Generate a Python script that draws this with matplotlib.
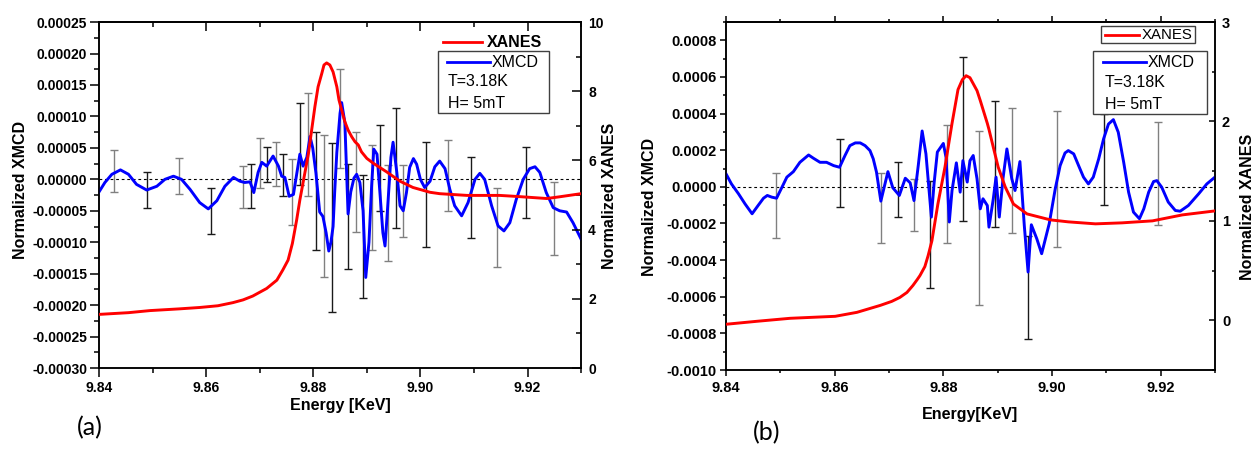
import numpy as np
import matplotlib
matplotlib.use("Agg")
from matplotlib import pyplot as plt
from matplotlib.patches import Rectangle
from matplotlib.ticker import MultipleLocator, FormatStrFormatter, FuncFormatter

plt.rcParams["font.family"] = ["Liberation Sans", "DejaVu Sans"]

# ---------------- panel (a) ----------------
# XMCD (energy keV, value in units of 1e-5)
xmcd_a_pts = [
    (9.8400, -2.0), (9.8411, -0.5), (9.8424, 0.8), (9.8440, 1.5), (9.8455, 0.8),
    (9.8470, -0.8), (9.8489, -1.7), (9.8508, -1.1), (9.8523, 0.0), (9.8539, 0.5),
    (9.8554, 0.0), (9.8570, -1.6), (9.8588, -3.7), (9.8604, -4.7), (9.8620, -3.4),
    (9.8635, -1.1), (9.8651, 0.3), (9.8663, -0.3), (9.8672, -0.5), (9.8682, -0.4),
    (9.8689, -2.1), (9.8697, 1.1), (9.8704, 2.7), (9.8713, 2.1), (9.8725, 3.7),
    (9.8735, 2.1), (9.8741, 0.5), (9.8747, 0.3), (9.8755, -2.7), (9.8763, -2.4),
    (9.8775, 4.0), (9.8781, 2.1), (9.8788, 3.5), (9.8794, 6.8), (9.8799, 5.0),
    (9.8805, 1.0), (9.8812, -5.2), (9.8818, -5.9), (9.8824, -8.5), (9.8829, -11.4),
    (9.8833, -10.0), (9.8837, -7.5), (9.8840, -2.0), (9.8844, 4.3), (9.8850, 10.5),
    (9.8853, 12.2), (9.8859, 9.0), (9.8865, -5.5), (9.8870, -2.0), (9.8876, 0.2),
    (9.8881, 0.8), (9.8887, -0.5), (9.8893, -5.0), (9.8898, -15.6), (9.8904, -10.0),
    (9.8909, -1.0), (9.8913, 4.8), (9.8919, 4.0), (9.8924, -1.6), (9.8930, -8.5),
    (9.8934, -10.6), (9.8939, -4.3), (9.8945, 3.5), (9.8949, 5.9), (9.8956, 1.1),
    (9.8962, -4.2), (9.8968, -5.0), (9.8974, -2.1), (9.8980, 1.9), (9.8987, 3.3),
    (9.8993, 2.4), (9.9000, 0.0), (9.9008, -1.3), (9.9018, -0.3), (9.9027, 2.0),
    (9.9036, 2.9), (9.9046, 1.7), (9.9055, -1.6), (9.9064, -4.2), (9.9077, -5.8),
    (9.9089, -3.7), (9.9102, 0.0), (9.9111, 0.95), (9.9120, 0.0), (9.9133, -4.2),
    (9.9145, -7.4), (9.9156, -8.2), (9.9167, -6.9), (9.9179, -3.2), (9.9192, 0.0),
    (9.9204, 1.7), (9.9214, 2.0), (9.9223, 1.1), (9.9235, -2.1), (9.9248, -4.5),
    (9.9260, -5.0), (9.9273, -5.2), (9.9285, -6.9), (9.9300, -9.5),
]
# XANES (energy keV, normalized value, right axis)
xanes_a_pts = [
    (9.8400, 1.55), (9.8455, 1.60), (9.8495, 1.66), (9.8550, 1.71), (9.8588, 1.75),
    (9.8622, 1.80), (9.8650, 1.89), (9.8669, 1.97), (9.8687, 2.08), (9.8713, 2.30),
    (9.8732, 2.54), (9.8743, 2.83), (9.8753, 3.12), (9.8761, 3.60), (9.8769, 4.28),
    (9.8775, 4.86), (9.8783, 5.53), (9.8791, 6.20), (9.8797, 6.88), (9.8803, 7.55),
    (9.8809, 8.13), (9.8816, 8.52), (9.8820, 8.76), (9.8825, 8.82), (9.8831, 8.76),
    (9.8837, 8.56), (9.8844, 8.13), (9.8848, 7.75), (9.8853, 7.46), (9.8859, 7.12),
    (9.8865, 6.88), (9.8872, 6.68), (9.8878, 6.54), (9.8884, 6.45), (9.8890, 6.25),
    (9.8900, 6.06), (9.8912, 5.92), (9.8937, 5.67), (9.8962, 5.40), (9.8986, 5.22),
    (9.9018, 5.08), (9.9036, 5.04), (9.9087, 4.99), (9.9148, 4.99), (9.9180, 4.96),
    (9.9236, 4.90), (9.9260, 4.95), (9.9300, 5.04),
]
# error bars (energy, centre, half length), values in units of 1e-5
err_a = [
    (9.8428, 1.3, 3.3), (9.8490, -1.7, 2.9), (9.8549, 0.5, 2.9), (9.8609, -5.0, 3.7),
    (9.8669, -1.2, 3.3), (9.8684, -1.0, 3.5), (9.8700, 2.6, 4.0), (9.8714, 2.3, 2.8),
    (9.8730, 2.4, 3.5), (9.8743, 0.7, 3.4), (9.8760, -2.0, 5.2), (9.8775, 5.6, 6.5),
    (9.8790, 5.5, 8.2), (9.8805, -1.9, 9.4), (9.8820, -4.2, 11.3), (9.8835, -7.7, 13.4),
    (9.8850, 9.7, 7.9), (9.8865, -5.9, 8.4), (9.8880, -0.4, 8.0), (9.8893, -9.1, 9.8),
    (9.8909, -2.9, 8.3), (9.8924, 1.8, 6.9), (9.8939, -5.4, 7.6), (9.8954, 1.8, 9.6),
    (9.8968, -3.5, 5.7), (9.9010, -2.4, 8.3), (9.9051, 0.6, 5.6), (9.9094, -2.9, 6.4),
    (9.9143, -7.7, 6.3), (9.9197, -0.5, 5.7), (9.9249, -6.3, 5.8),
]

# ---------------- panel (b) ----------------
# XMCD (energy keV, value in units of 1e-4)
xmcd_b_pts = [
    (9.8400, 0.71), (9.8410, 0.16), (9.8423, -0.38), (9.8435, -0.93), (9.8448, -1.47),
    (9.8459, -1.02), (9.8469, -0.62), (9.8476, -0.47), (9.8484, -0.56), (9.8493, -0.62),
    (9.8503, -0.02), (9.8512, 0.53), (9.8524, 0.83), (9.8536, 1.34), (9.8552, 1.74),
    (9.8561, 1.56), (9.8573, 1.34), (9.8585, 1.34), (9.8598, 1.16), (9.8609, 1.07),
    (9.8619, 1.71), (9.8628, 2.25), (9.8638, 2.40), (9.8647, 2.40), (9.8656, 2.25),
    (9.8665, 1.98), (9.8671, 1.53), (9.8677, 0.80), (9.8685, -0.78), (9.8698, 0.83),
    (9.8707, -0.05), (9.8719, -0.47), (9.8730, 0.47), (9.8739, 0.22), (9.8746, -0.75),
    (9.8754, 1.20), (9.8761, 3.05), (9.8768, 1.80), (9.8778, -1.65), (9.8783, 0.20),
    (9.8789, 1.90), (9.8800, 2.37), (9.8805, 1.60), (9.8811, -1.92), (9.8816, -0.20),
    (9.8824, 1.31), (9.8831, -0.29), (9.8836, 1.43), (9.8844, 0.26), (9.8849, 1.43),
    (9.8855, 1.71), (9.8862, 0.44), (9.8868, -1.20), (9.8873, -0.65), (9.8881, -1.02),
    (9.8884, -2.20), (9.8892, -0.65), (9.8897, 0.53), (9.8903, -1.65), (9.8910, 0.50),
    (9.8917, 2.07), (9.8926, 0.44), (9.8932, -0.20), (9.8941, 1.38), (9.8949, -2.10),
    (9.8956, -4.65), (9.8962, -2.07), (9.8972, -2.83), (9.8981, -3.65), (9.8995, -2.00),
    (9.9006, -0.11), (9.9015, 1.16), (9.9024, 1.85), (9.9030, 1.98), (9.9040, 1.80),
    (9.9049, 1.16), (9.9058, 0.53), (9.9067, 0.16), (9.9076, 0.53), (9.9086, 1.53),
    (9.9095, 2.62), (9.9104, 3.43), (9.9113, 3.67), (9.9122, 2.98), (9.9132, 1.34),
    (9.9141, -0.29), (9.9150, -1.38), (9.9161, -1.74), (9.9169, -1.20), (9.9178, -0.29),
    (9.9187, 0.29), (9.9193, 0.34), (9.9202, -0.02), (9.9214, -0.83), (9.9227, -1.29),
    (9.9236, -1.33), (9.9251, -1.02), (9.9270, -0.38), (9.9285, 0.16), (9.9300, 0.53),
]
xanes_b_pts = [
    (9.8400, -0.04), (9.8457, -0.01), (9.8518, 0.02), (9.8601, 0.04), (9.8641, 0.08),
    (9.8684, 0.15), (9.8705, 0.19), (9.8720, 0.23), (9.8733, 0.28), (9.8744, 0.35),
    (9.8752, 0.41), (9.8757, 0.45), (9.8766, 0.54), (9.8772, 0.65), (9.8779, 0.80),
    (9.8790, 1.17), (9.8803, 1.54), (9.8816, 1.98), (9.8827, 2.32), (9.8835, 2.42),
    (9.8842, 2.46), (9.8849, 2.44), (9.8855, 2.38), (9.8862, 2.31), (9.8868, 2.21),
    (9.8881, 1.98), (9.8884, 1.92), (9.8892, 1.74), (9.8901, 1.54), (9.8914, 1.34),
    (9.8929, 1.17), (9.8954, 1.07), (9.8997, 1.01), (9.9030, 0.99), (9.9080, 0.97),
    (9.9129, 0.98), (9.9185, 1.00), (9.9240, 1.06), (9.9300, 1.10),
]
# error bars (energy, centre, half length), values in units of 1e-4
err_b = [
    (9.8492, -1.02, 1.76), (9.8610, 0.75, 1.84), (9.8686, -1.16, 1.91),
    (9.8716, -0.16, 1.51), (9.8746, -1.00, 1.43), (9.8776, -2.60, 2.90),
    (9.8806, 0.15, 3.20), (9.8837, 2.59, 4.48), (9.8865, -1.70, 4.73),
    (9.8895, 1.25, 3.42), (9.8926, 0.88, 3.40), (9.8956, -5.50, 2.79),
    (9.9009, 0.44, 3.72), (9.9095, 1.50, 2.48), (9.9195, 0.75, 2.81),
]

BAR_COLORS = ["#808080", "#1a1a1a"]


def fixed_fmt(decimals):
    # avoid "-0.00000" from tiny float residue at zero
    return FuncFormatter(lambda v, _: f"{0.0 if abs(v) < 1e-12 else v:.{decimals}f}")


def style_axes(ax, ax2, fs, tick_len, top_dir, left_pad, right_pad, x_pad):
    for a in (ax, ax2):
        for sp in a.spines.values():
            sp.set_linewidth(1.1)
    ax.set_xlim(9.84, 9.93)
    ax.xaxis.set_major_locator(MultipleLocator(0.02))
    ax.xaxis.set_minor_locator(MultipleLocator(0.01))
    ax.xaxis.set_major_formatter(FormatStrFormatter("%.2f"))
    ax.tick_params(axis="both", which="major", direction="out", length=tick_len,
                   width=1.1, labelsize=fs)
    ax.tick_params(axis="both", which="minor", direction="out", length=tick_len * 0.55,
                   width=1.1)
    ax.tick_params(axis="y", pad=left_pad)
    ax.tick_params(axis="x", pad=x_pad)
    ax2.tick_params(axis="y", which="major", direction="in", length=tick_len,
                    width=1.1, labelsize=fs, pad=right_pad)
    ax2.tick_params(axis="y", which="minor", direction="in", length=tick_len * 0.55,
                    width=1.1)
    for lab in ax.get_xticklabels() + ax.get_yticklabels() + ax2.get_yticklabels():
        lab.set_fontweight("bold")
    top = ax.secondary_xaxis("top")
    top.xaxis.set_major_locator(MultipleLocator(0.02))
    top.xaxis.set_minor_locator(MultipleLocator(0.01))
    top.tick_params(which="major", direction=top_dir, length=tick_len, width=1.1,
                    labeltop=False)
    top.tick_params(which="minor", direction=top_dir, length=tick_len * 0.55, width=1.1)
    top.spines["top"].set_linewidth(1.1)


def draw_curves(ax, ax2, xmcd_pts, xanes_pts, err, scale):
    e_m, v_m = zip(*xmcd_pts)
    e_x, v_x = zip(*xanes_pts)
    ax.axhline(0, color="black", lw=0.8, ls=(0, (2.5, 2.5)), zorder=1)
    for i, (e, c, h) in enumerate(err):
        ax.errorbar(e, c * scale, yerr=h * scale, fmt="none", ecolor=BAR_COLORS[i % 2],
                    elinewidth=1.0, capsize=3, capthick=1.0, zorder=2)
    ax.plot(e_m, np.array(v_m) * scale, color="#0000ff", lw=2.1, zorder=3,
            solid_joinstyle="round")
    ax2.plot(e_x, v_x, color="#ff0000", lw=2.1, zorder=3, solid_joinstyle="round")


def legend_line(ax, x0, x1, y, color):
    ax.plot([x0, x1], [y, y], color=color, lw=2.0, transform=ax.transAxes,
            clip_on=False, zorder=6)


fig = plt.figure(figsize=(12.55, 4.51), dpi=100)

# ---- (a) ----
axa = fig.add_axes([0.0789, 0.184, 0.3841, 0.767])
axa2 = axa.twinx()
draw_curves(axa, axa2, xmcd_a_pts, xanes_a_pts, err_a, 1e-5)
axa.set_ylim(-0.0003, 0.00025)
axa.yaxis.set_major_locator(MultipleLocator(0.00005))
axa.yaxis.set_minor_locator(MultipleLocator(0.000025))
axa.yaxis.set_major_formatter(fixed_fmt(5))
axa2.set_ylim(0, 10)
axa2.yaxis.set_major_locator(MultipleLocator(2))
axa2.yaxis.set_minor_locator(MultipleLocator(1))
axa2.yaxis.set_major_formatter(FormatStrFormatter("%d"))
style_axes(axa, axa2, 10, 6.5, "in", 2.0, 5.0, 2.5)
axa.set_xlabel("Energy [KeV]", fontsize=11.5, fontweight="bold")
axa.set_ylabel("Normalized XMCD", fontsize=11.5, fontweight="bold")
axa2.set_ylabel("Normalized XANES", fontsize=11.5, fontweight="bold")
axa.xaxis.set_label_coords(0.5, -0.087)
axa.yaxis.set_label_coords(-0.148, 0.514)
axa2.yaxis.set_label_coords(1.044, 0.497)

axa2.add_patch(Rectangle((0.703, 0.737), 0.231, 0.179, transform=axa2.transAxes,
                         facecolor="white", edgecolor="#404040", lw=1.0, zorder=5))
legend_line(axa2, 0.714, 0.795, 0.942, "#ff0000")
axa2.text(0.805, 0.942, "XANES", transform=axa2.transAxes, fontsize=11.5,
          fontweight="bold", va="center", ha="left", zorder=6)
legend_line(axa2, 0.722, 0.811, 0.884, "#0000ff")
axa2.text(0.815, 0.884, "XMCD", transform=axa2.transAxes, fontsize=11.5,
          va="center", ha="left", zorder=6)
axa2.text(0.724, 0.827, "T=3.18K", transform=axa2.transAxes, fontsize=11.5,
          va="center", ha="left", zorder=6)
axa2.text(0.724, 0.766, "H= 5mT", transform=axa2.transAxes, fontsize=11.5,
          va="center", ha="left", zorder=6)

# ---- (b) ----
axb = fig.add_axes([0.5785, 0.1796, 0.3896, 0.7716])
axb2 = axb.twinx()
draw_curves(axb, axb2, xmcd_b_pts, xanes_b_pts, err_b, 1e-4)
axb.set_ylim(-0.001, 0.0009)
axb.yaxis.set_major_locator(MultipleLocator(0.0002))
axb.yaxis.set_minor_locator(MultipleLocator(0.0001))
axb.yaxis.set_major_formatter(fixed_fmt(4))
axb2.set_ylim(-0.5, 3)
axb2.yaxis.set_major_locator(MultipleLocator(1))
axb2.yaxis.set_minor_locator(MultipleLocator(0.5))
axb2.yaxis.set_major_formatter(FormatStrFormatter("%d"))
style_axes(axb, axb2, 10.5, 4.0, "out", 2.5, 5.0, 4.0)
axb.set_xlabel("Energy[KeV]", fontsize=11.5, fontweight="bold")
axb.set_ylabel("Normalized XMCD", fontsize=11.5, fontweight="bold")
axb2.set_ylabel("Normalized XANES", fontsize=11.5, fontweight="bold")
axb.xaxis.set_label_coords(0.5, -0.106)
axb.yaxis.set_label_coords(-0.141, 0.468)
axb2.yaxis.set_label_coords(1.051, 0.468)

axb2.add_patch(Rectangle((0.767, 0.940), 0.192, 0.049, transform=axb2.transAxes,
                         facecolor="white", edgecolor="#404040", lw=1.0, zorder=5))
legend_line(axb2, 0.775, 0.845, 0.963, "#ff0000")
axb2.text(0.850, 0.963, "XANES", transform=axb2.transAxes, fontsize=10.8,
          va="center", ha="left", zorder=6)
axb2.add_patch(Rectangle((0.751, 0.736), 0.233, 0.181, transform=axb2.transAxes,
                         facecolor="white", edgecolor="#404040", lw=1.0, zorder=5))
legend_line(axb2, 0.771, 0.859, 0.885, "#0000ff")
axb2.text(0.863, 0.885, "XMCD", transform=axb2.transAxes, fontsize=11.5,
          va="center", ha="left", zorder=6)
axb2.text(0.775, 0.825, "T=3.18K", transform=axb2.transAxes, fontsize=11.5,
          va="center", ha="left", zorder=6)
axb2.text(0.775, 0.764, "H= 5mT", transform=axb2.transAxes, fontsize=11.5,
          va="center", ha="left", zorder=6)

fig.text(90 / 1255, 1 - 428 / 451, "(a)", fontsize=18, family=["Lato", "DejaVu Sans"],
         ha="center", va="center")
fig.text(767 / 1255, 1 - 433 / 451, "(b)", fontsize=18, family=["Lato", "DejaVu Sans"],
         ha="center", va="center")

fig.savefig("out.png", dpi=100)
